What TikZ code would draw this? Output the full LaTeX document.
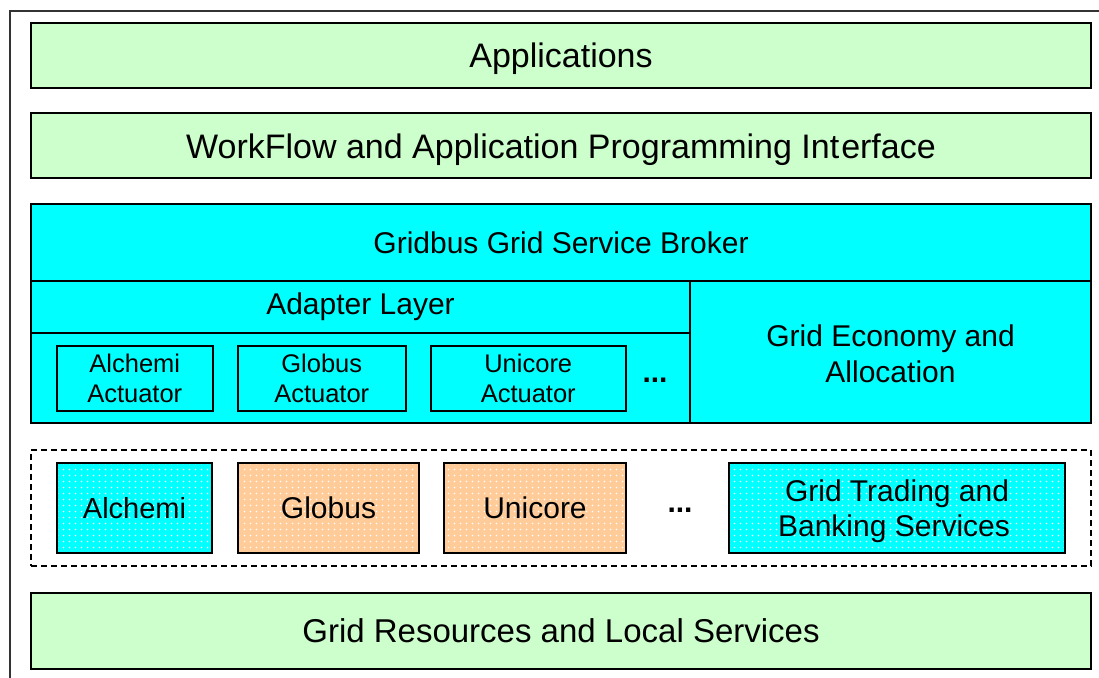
\documentclass[tikz,border=0pt]{standalone}
\usepackage{fontspec}
\setmainfont{Liberation Sans}
\usetikzlibrary{patterns.meta}
\definecolor{lgreen}{HTML}{CCFFCC}
\definecolor{aqua}{HTML}{00FFFF}
\definecolor{peach}{HTML}{FFCC99}
\tikzdeclarepattern{
  name=wdots,
  type=uncolored,
  bounding box={(0pt,0pt) and (5.5pt,5.5pt)},
  tile size={(5.5pt,5.5pt)},
  code={\fill (2.75pt,2.75pt) circle (0.9pt);}
}
\newcommand{\lowerby}[2]{\raisebox{-#1}[\height][\depth]{#2}}
\begin{document}
\begin{tikzpicture}[x=1pt,y=-1pt,
  boxbase/.style={draw=black, anchor=north west, inner sep=0pt, align=center, text=black},
  layer/.style={boxbase, line width=2pt, fill=lgreen, font=\fontsize{34}{40}\selectfont},
  cyanbox/.style={boxbase, line width=2pt, fill=aqua, font=\fontsize{30}{36}\selectfont},
  actbox/.style={boxbase, line width=1.5pt, font=\fontsize{25.5}{30}\selectfont},
  mwbox/.style 2 args={boxbase, line width=2pt, preaction={fill=#1}, pattern={wdots}, pattern color=white, font=\fontsize{#2}{35}\selectfont},
  ell/.style={inner sep=0pt, font=\bfseries\fontsize{30}{34}\selectfont}
]
\useasboundingbox (0,0) rectangle (1099,677);
\begin{scope}
  \clip (0,0) rectangle (1099,677);
  \draw[line width=2pt, black!80] (10,11) rectangle (1130,700);
\end{scope}

\node[layer, minimum width=1060pt, minimum height=65pt] (apps) at (30,22) {\lowerby{3pt}{Applications}};
\node[layer, minimum width=1060pt, minimum height=65pt] (wf) at (30,112) {\lowerby{4pt}{WorkFlow and Application Programming Int\kern2pt erface}};

\node[cyanbox, minimum width=1060pt, minimum height=77pt] (broker) at (30,203) {Gridbus Grid Service Broker};
\node[cyanbox, minimum width=659pt, minimum height=52pt] (adapter) at (30,280) {Adapter Layer};
\node[cyanbox, minimum width=659pt, minimum height=90pt] (actarea) at (30,332) {};
\node[cyanbox, minimum width=401pt, minimum height=142pt] (econ) at (689,280) {\lowerby{5pt}{\begin{tabular}{@{}c@{}}Grid Economy and\\Allocation\end{tabular}}};

\node[actbox, minimum width=156pt, minimum height=65pt] (a1) at (56,345) {Alchemi\\Actuator};
\node[actbox, minimum width=168pt, minimum height=65pt] (a2) at (237,345) {Globus\\Actuator};
\node[actbox, minimum width=195pt, minimum height=65pt] (a3) at (430,345) {Unicore\\Actuator};
\node[ell] (e1) at (655,380) {...};

\node[boxbase, draw=black, line width=2.2pt, dash pattern=on 6pt off 4pt, minimum width=1060pt, minimum height=116pt] (mw) at (30,449) {};
\node[mwbox={aqua}{29}, minimum width=155pt, minimum height=90pt] (b1) at (56,462) {Alchemi};
\node[mwbox={peach}{30}, minimum width=181pt, minimum height=90pt] (b2) at (237,462) {Globus};
\node[mwbox={peach}{30}, minimum width=182pt, minimum height=90pt] (b3) at (443,462) {Unicore};
\node[ell] (e2) at (680,510) {...};
\node[mwbox={aqua}{30}, minimum width=336pt, minimum height=90pt] (b4) at (728,462) {\lowerby{4pt}{\begin{tabular}{@{}c@{}}Grid Trading and\\\kern-6pt Banking Services\end{tabular}}};

\node[layer, minimum width=1060pt, minimum height=76pt, font=\fontsize{33}{40}\selectfont] (res) at (30,592) {Grid Resources and Local Services};
\end{tikzpicture}
\end{document}
